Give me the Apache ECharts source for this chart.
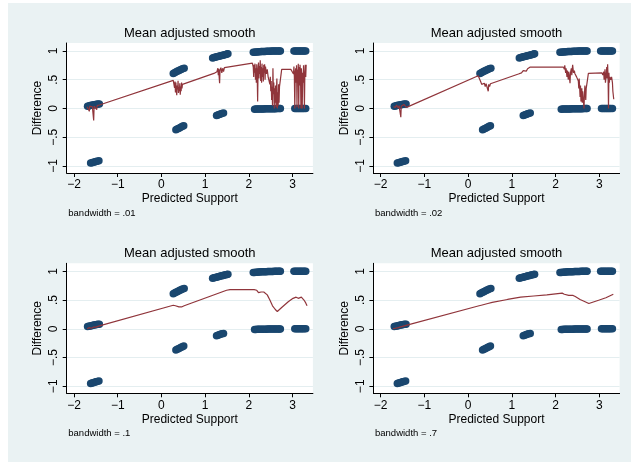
<!DOCTYPE html>
<html><head><meta charset="utf-8">
<script src="https://cdn.jsdelivr.net/npm/echarts@6/dist/echarts.min.js"></script>
<style>
html,body{margin:0;padding:0;background:#fff;}
#wrap{position:relative;width:631px;height:464px;overflow:hidden;}
#bg{position:absolute;left:8px;top:3px;width:623px;height:459px;background:#EAF2F3;}
#chart{position:absolute;left:0;top:0;width:631px;height:464px;}
</style></head><body>
<div id="wrap"><div id="bg"></div><div id="chart"></div></div>
<script>
// ---------- data ----------
const panelTitles = ['Mean adjusted smooth','Mean adjusted smooth','Mean adjusted smooth','Mean adjusted smooth'];
const bandwidthNotes = ['bandwidth = .01','bandwidth = .02','bandwidth = .1','bandwidth = .7'];
const xTicks = [-2,-1,0,1,2,3];
const xTickLabels = ['\u22122','\u22121','0','1','2','3'];
const yTicks = [-1,-0.5,0,0.5,1];
const yTickLabels = ['\u22121','\u2212.5','0','.5','1'];
const xTitle = 'Predicted Support';
const yTitle = 'Difference';

// observed points (Predicted Support, Difference)
const groupA = [[-1.69,0.040],[-1.66,0.045],[-1.63,0.050],[-1.60,0.055],[-1.57,0.060],[-1.54,0.065],[-1.51,0.070],[-1.48,0.075],[-1.45,0.078],[-1.42,0.080]];
const groupB = [[-1.62,-0.950],[-1.59,-0.944],[-1.56,-0.937],[-1.53,-0.930],[-1.50,-0.923],[-1.47,-0.917],[-1.43,-0.910]];
const groupC = [[0.27,0.610],[0.30,0.622],[0.33,0.634],[0.36,0.646],[0.39,0.658],[0.42,0.670],[0.45,0.680],[0.48,0.690],[0.52,0.700]];
const groupD = [[0.33,-0.370],[0.36,-0.358],[0.39,-0.346],[0.42,-0.334],[0.45,-0.322],[0.48,-0.311],[0.51,-0.300]];
const groupE = [[1.17,0.880],[1.20,0.886],[1.23,0.892],[1.26,0.898],[1.29,0.904],[1.32,0.910],[1.35,0.916],[1.38,0.922],[1.41,0.928],[1.44,0.934],[1.47,0.940],[1.50,0.946],[1.52,0.950]];
const groupF = [[1.26,-0.120],[1.29,-0.112],[1.32,-0.104],[1.35,-0.096],[1.38,-0.088],[1.42,-0.080]];
const groupG = [[2.10,0.978],[2.13,0.980],[2.16,0.982],[2.19,0.984],[2.22,0.986],[2.25,0.988],[2.28,0.990],[2.31,0.991],[2.34,0.992],[2.37,0.993],[2.40,0.994],[2.43,0.995],[2.46,0.996],[2.49,0.997],[2.52,0.998],[2.55,0.998],[2.58,0.999],[2.61,0.999],[2.64,1.000],[2.67,1.000],[2.70,1.000],[2.72,1.000]];
const groupH = [[2.13,-0.012],[2.16,-0.011],[2.19,-0.010],[2.22,-0.010],[2.25,-0.009],[2.28,-0.008],[2.31,-0.008],[2.34,-0.007],[2.37,-0.006],[2.40,-0.006],[2.43,-0.005],[2.46,-0.005],[2.49,-0.004],[2.52,-0.004],[2.55,-0.003],[2.58,-0.003],[2.61,-0.003],[2.64,-0.002],[2.67,-0.002],[2.70,-0.002],[2.72,-0.002]];
const groupI = [[3.03,1.0],[3.06,1.0],[3.09,1.0],[3.12,1.0],[3.15,1.0],[3.18,1.0],[3.21,1.0],[3.24,1.0],[3.27,1.0],[3.30,1.0]];
const groupJ = [[3.05,0.0],[3.08,0.0],[3.11,0.0],[3.14,0.0],[3.17,0.0],[3.20,0.0],[3.23,0.0],[3.26,0.0],[3.30,0.0]];

// smooths
const smoothBw01 = [[-1.70,0.03],[-1.68,0.05],[-1.66,0.02],[-1.65,-0.05],[-1.64,0.04],[-1.62,0.02],[-1.60,0.06],[-1.58,0.03],[-1.56,0.05],[-1.55,-0.21],[-1.54,0.04],[-1.52,0.06],[-1.50,0.03],[-1.48,-0.02],[-1.47,0.05],[-1.45,0.06],[-1.43,0.02],[-1.42,0.06],[-1.40,0.05],
[0.27,0.49],[0.29,0.52],[0.30,0.36],[0.31,0.47],[0.32,0.28],[0.33,0.45],[0.34,0.31],[0.35,0.23],[0.36,0.40],[0.37,0.33],[0.38,0.48],[0.39,0.27],[0.40,0.37],[0.41,0.30],[0.42,0.44],[0.43,0.24],[0.44,0.38],[0.45,0.30],[0.46,0.45],[0.47,0.35],[0.48,0.42],[0.50,0.40],
[1.20,0.61],[1.27,0.64],[1.29,0.70],[1.30,0.58],[1.31,0.69],[1.32,0.55],[1.33,0.44],[1.34,0.67],[1.36,0.71],[1.38,0.62],[1.40,0.70],[1.42,0.64],[1.44,0.71],[1.46,0.70],
[2.08,0.79],[2.10,0.72],[2.11,0.55],[2.12,0.76],[2.13,0.62],[2.14,0.78],[2.15,0.50],[2.16,0.70],[2.17,0.45],[2.18,0.77],[2.19,0.58],[2.20,0.12],[2.21,0.66],[2.22,0.80],[2.23,0.52],[2.24,0.74],[2.25,0.60],[2.26,0.84],[2.27,0.48],[2.28,0.72],[2.29,0.45],[2.30,0.78],[2.31,0.55],[2.32,0.70],[2.33,0.47],[2.34,0.76],[2.35,0.62],[2.36,0.77],[2.37,0.50],[2.38,0.73],[2.40,0.60],[2.42,0.68],[2.44,0.55],
[2.46,0.58],[2.48,0.42],[2.49,0.55],[2.50,0.30],[2.51,0.48],[2.52,0.15],[2.53,0.38],[2.54,0.05],[2.55,0.70],[2.56,0.25],[2.57,0.45],[2.58,0.00],[2.59,0.35],[2.60,0.10],[2.61,0.40],[2.62,0.02],[2.63,0.30],[2.64,0.52],[2.65,0.00],[2.66,0.28],[2.67,0.05],[2.68,0.42],[2.69,0.10],[2.70,0.38],[2.72,0.35],[2.73,0.40],
[2.75,0.68],[2.96,0.68],[2.98,0.66],[3.00,0.68],[3.02,0.60],[3.03,0.73],[3.04,0.55],[3.05,0.00],[3.06,0.62],[3.07,0.70],[3.08,0.45],[3.09,0.75],[3.10,0.02],[3.11,0.68],[3.12,0.50],[3.13,0.78],[3.14,0.00],[3.15,0.72],[3.16,0.40],[3.17,0.76],[3.18,0.60],[3.19,0.00],[3.20,0.70],[3.21,0.55],[3.22,0.00],[3.23,0.62],[3.24,0.45],[3.25,0.75],[3.26,0.50],[3.27,0.00],[3.28,0.60],[3.29,0.76],[3.30,0.55],[3.31,0.76]];

const smoothBw02 = [[-1.71,0.03],[-1.68,0.05],[-1.66,0.02],[-1.64,0.06],[-1.62,0.04],[-1.60,0.01],[-1.58,0.05],[-1.56,0.03],[-1.54,-0.15],[-1.53,0.04],[-1.51,0.06],[-1.49,0.03],[-1.47,0.07],[-1.45,0.04],[-1.43,0.06],[-1.41,0.02],[-1.38,0.00],
[0.23,0.57],[0.26,0.54],[0.29,0.46],[0.31,0.42],[0.33,0.45],[0.35,0.40],[0.37,0.44],[0.39,0.38],[0.41,0.43],[0.43,0.40],[0.45,0.45],[0.46,0.30],[0.47,0.42],[0.49,0.38],[0.51,0.43],[0.54,0.44],
[1.15,0.60],[1.22,0.62],[1.26,0.66],[1.28,0.63],[1.30,0.68],[1.33,0.65],[1.36,0.69],[1.39,0.67],[1.42,0.72],
[2.18,0.72],[2.20,0.68],[2.21,0.75],[2.23,0.62],[2.24,0.70],[2.26,0.55],[2.27,0.66],[2.29,0.50],[2.30,0.64],[2.31,0.58],[2.33,0.44],[2.34,0.62],[2.36,0.70],[2.37,0.58],[2.39,0.76],[2.41,0.62],[2.43,0.66],[2.44,0.61],
[2.48,0.55],[2.52,0.48],[2.53,0.35],[2.54,0.52],[2.56,0.20],[2.57,0.40],[2.58,0.12],[2.60,0.35],[2.61,0.10],[2.62,0.30],[2.63,0.18],[2.65,0.00],[2.66,0.25],[2.67,0.40],[2.69,0.15],[2.70,0.35],[2.72,0.45],
[2.75,0.61],[3.06,0.62],[3.08,0.58],[3.10,0.64],[3.11,0.50],[3.13,0.68],[3.14,0.45],[3.16,0.60],[3.17,0.72],[3.18,0.52],[3.19,0.77],[3.20,0.55],[3.21,0.00],[3.22,0.62],[3.23,0.45],[3.24,0.55],[3.26,0.50],[3.28,0.55],[3.30,0.45],[3.31,0.30],[3.33,0.16]];

const smoothBw1 = [[-1.70,0.00],[-1.65,0.02],[-1.60,0.01],[-1.55,0.03],[-1.50,0.03],[-1.42,0.05],[0.27,0.41],[0.32,0.40],[0.40,0.38],[0.46,0.38],[0.52,0.40],[1.49,0.67],[1.57,0.68],[2.12,0.68],[2.18,0.67],[2.22,0.63],[2.25,0.60],[2.28,0.64],[2.31,0.62],[2.34,0.64],[2.38,0.61],[2.42,0.59],[2.48,0.50],[2.54,0.40],[2.60,0.34],[2.65,0.30],[2.68,0.33],[2.75,0.37],[2.90,0.47],[3.01,0.53],[3.08,0.55],[3.13,0.53],[3.17,0.52],[3.20,0.55],[3.23,0.57],[3.26,0.50],[3.30,0.45],[3.33,0.40]];

const smoothBw7 = [[-1.72,0.00],[-1.60,0.02],[-1.42,0.06],[0.25,0.40],[0.30,0.41],[0.45,0.44],[0.55,0.46],[0.90,0.51],[1.20,0.55],[1.50,0.57],[1.80,0.59],[2.15,0.62],[2.20,0.60],[2.24,0.57],[2.30,0.58],[2.40,0.58],[2.45,0.56],[2.56,0.51],[2.65,0.48],[2.76,0.44],[3.00,0.50],[3.15,0.54],[3.32,0.60]];

const observed = [].concat(groupA, groupB, groupC, groupD, groupE, groupF, groupG, groupH, groupI, groupJ);
const smooths = [smoothBw01, smoothBw02, smoothBw1, smoothBw7];

// ---------- layout ----------
const FONT = '"Liberation Sans", Arial, Helvetica, sans-serif';
const gridLefts = [66.7, 373.4, 66.7, 373.4];
const gridTops = [43, 43, 263.3, 263.3];
const gridW = 246.2, gridH = 130;

const grids = [], xAxes = [], yAxes = [], series = [], graphics = [];
for (let i = 0; i < 4; i++) {
  grids.push({left: gridLefts[i], top: gridTops[i], width: gridW, height: gridH,
    show: true, backgroundColor: '#ffffff', borderWidth: 0, containLabel: false});
  xAxes.push({type: 'value', gridIndex: i, min: -2.167, max: 3.464,
    name: xTitle, nameLocation: 'middle', nameGap: 20,
    nameTextStyle: {color: '#000', fontSize: 12, fontFamily: FONT},
    axisLine: {show: true, onZero: false, lineStyle: {color: '#000', width: 1}},
    axisTick: {show: true, length: 4, customValues: xTicks, lineStyle: {color: '#000', width: 1}},
    axisLabel: {customValues: xTicks, color: '#000', fontSize: 12, fontFamily: FONT, margin: 6,
      formatter: v => xTickLabels[xTicks.indexOf(v)] ?? ''},
    splitLine: {show: false}});
  yAxes.push({type: 'value', gridIndex: i, min: -1.122, max: 1.139,
    name: yTitle, nameLocation: 'middle', nameGap: 23, nameRotate: 90,
    nameTextStyle: {color: '#000', fontSize: 12, fontFamily: FONT},
    axisLine: {show: true, onZero: false, lineStyle: {color: '#000', width: 1}},
    axisTick: {show: true, length: 4, customValues: yTicks, lineStyle: {color: '#000', width: 1}},
    axisLabel: {customValues: yTicks, rotate: 90, color: '#000', fontSize: 12, fontFamily: FONT, margin: 7,
      formatter: v => yTickLabels[yTicks.indexOf(v)] ?? ''},
    splitLine: {show: true, lineStyle: {color: '#E4EEF0', width: 1}}});
  series.push({type: 'scatter', xAxisIndex: i, yAxisIndex: i, data: observed,
    symbol: 'circle', symbolSize: 7.5, itemStyle: {color: '#1A476F', opacity: 1}, z: 2, silent: true});
  series.push({type: 'line', xAxisIndex: i, yAxisIndex: i, data: smooths[i],
    showSymbol: false, symbol: 'none', smooth: false,
    lineStyle: {color: '#90353B', width: 1.2}, z: 3, silent: true});
  const cx = gridLefts[i] + gridW / 2;
  graphics.push({type: 'text', x: cx, y: gridTops[i] - 9.7,
    style: {text: panelTitles[i], fill: '#000', font: '13px ' + FONT,
      textAlign: 'center', textVerticalAlign: 'middle', align: 'center', verticalAlign: 'middle'}});
  graphics.push({type: 'text', x: gridLefts[i] + 1.6, y: gridTops[i] + 170.3,
    style: {text: bandwidthNotes[i], fill: '#000', font: '9.5px ' + FONT,
      textAlign: 'left', textVerticalAlign: 'middle', align: 'left', verticalAlign: 'middle'}});
}

const chart = echarts.init(document.getElementById('chart'), null, {renderer: 'canvas'});
chart.setOption({
  backgroundColor: 'transparent',
  animation: false,
  grid: grids, xAxis: xAxes, yAxis: yAxes, series: series,
  graphic: {elements: graphics}
});
</script></body></html>
